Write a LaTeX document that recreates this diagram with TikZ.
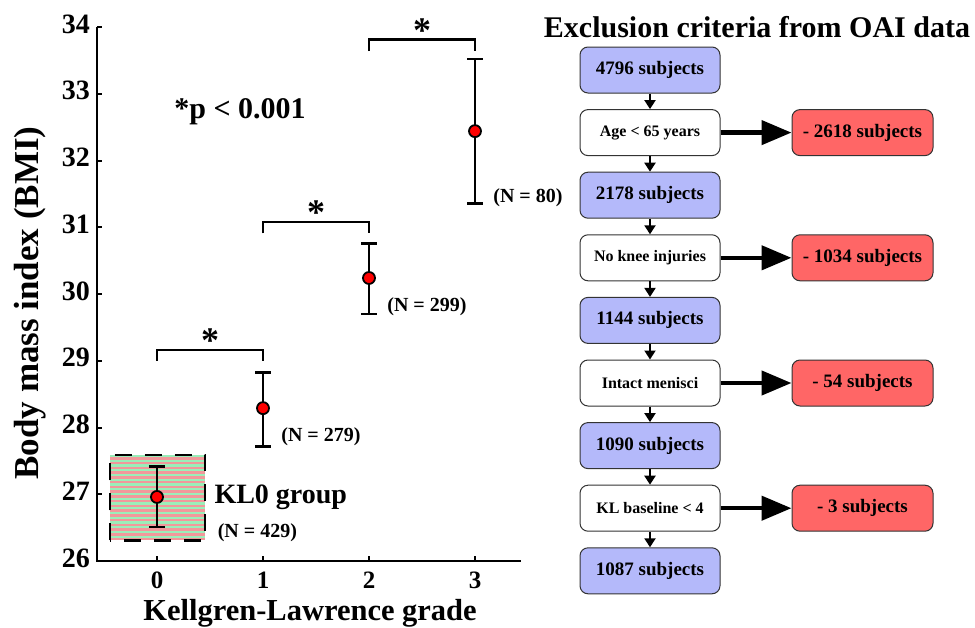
\documentclass[tikz,border=0pt]{standalone}
\usepackage{fontspec}
\setmainfont{Liberation Serif}
\usetikzlibrary{positioning,arrows.meta}

\definecolor{boxblue}{RGB}{180,185,250}
\definecolor{boxred}{RGB}{255,102,102}
\definecolor{stripered}{RGB}{242,152,155}
\definecolor{stripegreen}{RGB}{155,238,185}

\tikzset{
  count/.style={draw=black!80, fill=boxblue, rounded corners=8pt, line width=1pt,
    minimum width=140pt, minimum height=46pt, font=\fontsize{19}{22}\selectfont\bfseries},
  crit/.style={count, fill=white, font=\fontsize{16}{18}\selectfont\bfseries},
  drop/.style={count, fill=boxred, minimum width=141pt},
  flow/.style={-{Triangle[length=9pt,width=11pt]}, line width=2pt},
  excl/.style={-{Triangle[length=30pt,width=24pt]}, line width=4.5pt},
  ebar/.style={line width=2.8pt},
  dot/.style={circle, fill=red, draw=black, line width=1.8pt, inner sep=0pt, minimum size=12pt},
  nlabel/.style={anchor=west, font=\fontsize{20}{22}\selectfont\bfseries},
  ticklabel/.style={font=\fontsize{28}{30}\selectfont\bfseries},
  star/.style={font=\fontsize{36}{38}\selectfont\bfseries},
}

\begin{document}
\begin{tikzpicture}[x=1pt, y=-1pt]
  \useasboundingbox (0,0) rectangle (975,627);

  % BMI by KL grade
  \begin{scope}[shift={(157,2296.5)}, x=106pt, y=66.75pt]
    % KL0 group box
    \fill[stripegreen] (-0.443,26.31) rectangle (0.453,27.59);
    \foreach \i in {0,...,17}
      \fill[stripered] (-0.443,{26.31+\i*0.0711}) rectangle (0.453,{26.31+\i*0.0711+0.0355});
    \draw[dash pattern=on 17pt off 13pt, line width=2.5pt] (-0.443,26.31) rectangle (0.453,27.59);
    % axes
    \draw[line width=2.8pt] (-0.566,34) |- (3.43,26);
    \foreach \v in {26,...,34} {
      \draw[line width=2pt] (-0.566,\v) -- ++(5pt,0);
      \node[ticklabel, anchor=east, yshift=3pt] at (-0.6,\v) {\v};
    }
    \foreach \k in {0,...,3} {
      \draw[line width=2pt] (\k,26) -- ++(0,5pt);
      \node[ticklabel, font=\fontsize{25}{27}\selectfont\bfseries, anchor=base] at (\k,25.59) {\k};
    }
    % significance brackets
    \draw[line width=2.8pt] (0,29.0) |- (1,29.16) -- (1,29.0);
    \draw[line width=2.8pt] (1,30.91) |- (2,31.08) -- (2,30.91);
    \draw[line width=2.8pt] (2,33.64) |- (3,33.81) -- (3,33.64);
    \node[star] (s1) at (0.5,29.3) {*};
    \node[star] (s2) at (1.5,31.22) {*};
    \node[star] (s3) at (2.5,33.95) {*};
    % means with error bars
    \foreach \k/\m/\lo/\hi/\nx/\ny/\n in {0/26.96/26.51/27.41/0.54/26.42/429, 1/28.29/27.72/28.83/1.14/27.86/279,
                                          2/30.24/29.70/30.76/2.14/29.81/299, 3/32.44/31.36/33.52/3.14/31.45/80} {
      \draw[ebar] (\k,\lo) -- (\k,\hi);
      \draw[ebar] (\k-0.075,\lo) -- (\k+0.075,\lo);
      \draw[ebar] (\k-0.075,\hi) -- (\k+0.075,\hi);
      \node[dot] (m\k) at (\k,\m) {};
      \node[nlabel] (n\k) at (\nx,\ny) {(N = \n)};
    }
  \end{scope}

  \node[font=\fontsize{30}{32}\selectfont\bfseries] (pval) at (240,112) {*p < 0.001};
  \node[anchor=west, font=\fontsize{28}{30}\selectfont\bfseries] (kl0) at (211,497) {KL0 group};
  \node[rotate=90, font=\fontsize{35}{37}\selectfont\bfseries] (ylab) at (30,303) {Body mass index (BMI)};
  \node[anchor=base, font=\fontsize{30.5}{32}\selectfont\bfseries] (xlab) at (310,620) {Kellgren-Lawrence grade};

  % exclusion flowchart
  \node[font=\fontsize{30}{32}\selectfont\bfseries] (title) at (757,27) {Exclusion criteria from OAI data};
  \node[count] (b0) at (650,70) {4796 subjects};
  \node[crit, below=15.6pt of b0] (c1) {Age < 65 years};
  \node[count, below=15.6pt of c1] (b1) {2178 subjects};
  \node[crit, below=15.6pt of b1] (c2) {No knee injuries};
  \node[count, below=15.6pt of c2] (b2) {1144 subjects};
  \node[crit, below=15.6pt of b2] (c3) {Intact menisci};
  \node[count, below=15.6pt of c3] (b3) {1090 subjects};
  \node[crit, below=15.6pt of b3] (c4) {KL baseline < 4};
  \node[count, below=15.6pt of c4] (b4) {1087 subjects};
  \node[drop, right=71pt of c1] (r1) {- 2618 subjects};
  \node[drop, right=71pt of c2] (r2) {- 1034 subjects};
  \node[drop, right=71pt of c3] (r3) {- 54 subjects};
  \node[drop, right=71pt of c4] (r4) {- 3 subjects};
  \foreach \a/\b in {b0/c1, c1/b1, b1/c2, c2/b2, b2/c3, c3/b3, b3/c4, c4/b4}
    \draw[flow] (\a) -- (\b);
  \foreach \i in {1,...,4}
    \draw[excl] (c\i) -- (r\i);
\end{tikzpicture}
\end{document}
